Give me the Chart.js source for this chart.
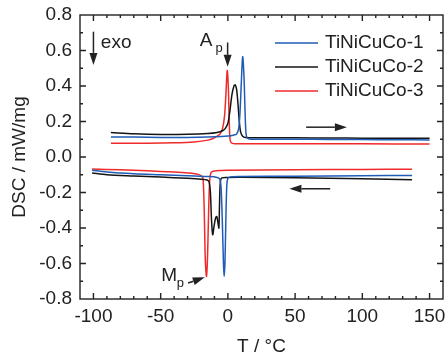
<!DOCTYPE html>
<html>
<head>
<meta charset="utf-8">
<script src="https://cdn.jsdelivr.net/npm/chart.js@4/dist/chart.umd.min.js"></script>
<style>
  html, body { margin: 0; padding: 0; background: #fff; }
</style>
</head>
<body>
<canvas id="myChart" width="445" height="358"></canvas>
<script>
// heating runs (upper curves), T in °C, DSC in mW/mg
var heatT1 = [-87, -70, -50, -30, -15, -5, 0, 4, 6.5, 8, 9, 10, 11, 12, 12.8, 13.5, 14.5, 17, 25, 50, 75, 100, 125, 150];
var heatY1 = [0.113, 0.112, 0.11, 0.11, 0.112, 0.115, 0.118, 0.123, 0.13, 0.16, 0.25, 0.42, 0.565, 0.45, 0.25, 0.13, 0.105, 0.1, 0.1, 0.1, 0.099, 0.098, 0.097, 0.096];
var heatT2 = [-87, -70, -50, -30, -15, -8, -4, -2, 0, 1.5, 3, 4.5, 5.5, 6.5, 7.5, 8.5, 9.5, 11, 13, 25, 50, 75, 100, 150];
var heatY2 = [0.138, 0.131, 0.127, 0.128, 0.132, 0.138, 0.148, 0.16, 0.19, 0.26, 0.35, 0.4, 0.406, 0.38, 0.3, 0.2, 0.14, 0.117, 0.11, 0.109, 0.108, 0.107, 0.106, 0.105];
var heatT3 = [-87, -60, -40, -25, -15, -10, -6, -4, -2.5, -1.5, -0.5, 0.3, 1, 1.6, 2.5, 5, 20, 50, 100, 150];
var heatY3 = [0.078, 0.078, 0.08, 0.085, 0.095, 0.108, 0.128, 0.16, 0.23, 0.35, 0.487, 0.4, 0.2, 0.1, 0.08, 0.075, 0.075, 0.074, 0.074, 0.073];

// cooling runs (lower curves)
var coolT1 = [-101, -90, -70, -50, -30, -15, -8, -6, -5, -4, -3.3, -2.8, -2.2, -1.5, -0.8, 0, 2, 10, 50, 100, 137];
var coolY1 = [-0.074, -0.085, -0.095, -0.1, -0.105, -0.11, -0.115, -0.125, -0.18, -0.4, -0.6, -0.673, -0.6, -0.35, -0.16, -0.12, -0.112, -0.11, -0.108, -0.105, -0.104];
var coolT2 = [-101, -90, -70, -50, -30, -20, -15.5, -14, -13, -12.2, -11.3, -10.3, -9.2, -8.3, -7.4, -6.7, -6.2, -5.6, -4.5, 0, 10, 50, 100, 137];
var coolY2 = [-0.09, -0.1, -0.107, -0.113, -0.12, -0.125, -0.13, -0.14, -0.2, -0.35, -0.438, -0.39, -0.345, -0.335, -0.37, -0.4, -0.26, -0.14, -0.118, -0.115, -0.114, -0.117, -0.122, -0.128];
var coolT3 = [-101, -80, -60, -40, -30, -22, -19.2, -18.4, -17.6, -16.8, -15.9, -15.1, -14.3, -13.5, -12.5, -10, -5, 0, 50, 100, 137];
var coolY3 = [-0.068, -0.072, -0.078, -0.085, -0.09, -0.098, -0.11, -0.13, -0.3, -0.58, -0.673, -0.55, -0.3, -0.13, -0.088, -0.079, -0.076, -0.075, -0.072, -0.07, -0.069];

var names = ['TiNiCuCo-1', 'TiNiCuCo-2', 'TiNiCuCo-3'];
var colors = ['#1f5cb8', '#151515', '#f02a2a'];
var xTicks = [-100, -50, 0, 50, 100, 150];
var yTicks = [-0.8, -0.6, -0.4, -0.2, 0, 0.2, 0.4, 0.6, 0.8];

var FONT = '"Liberation Sans", Arial, sans-serif';
var TXT = '#222';

function pts(t, v) {
  return t.map(function(x, i) { return {x: x, y: v[i]}; });
}

var runs = [[heatT1, heatY1, coolT1, coolY1], [heatT2, heatY2, coolT2, coolY2], [heatT3, heatY3, coolT3, coolY3]];
var datasets = [];
runs.forEach(function(r, i) {
  [[r[0], r[1]], [r[2], r[3]]].forEach(function(p) {
    datasets.push({
      label: names[i],
      data: pts(p[0], p[1]),
      borderColor: colors[i],
      borderWidth: 1.5,
      pointRadius: 0,
      tension: 0.3,
      fill: false
    });
  });
});

function arrow(ctx, x1, y1, x2, y2, len, hw) {
  var ang = Math.atan2(y2 - y1, x2 - x1);
  var bx = x2 - len * Math.cos(ang), by = y2 - len * Math.sin(ang);
  ctx.beginPath();
  ctx.moveTo(x1, y1);
  ctx.lineTo(bx, by);
  ctx.stroke();
  ctx.beginPath();
  ctx.moveTo(x2, y2);
  ctx.lineTo(bx + hw * Math.sin(ang), by - hw * Math.cos(ang));
  ctx.lineTo(bx - hw * Math.sin(ang), by + hw * Math.cos(ang));
  ctx.closePath();
  ctx.fill();
}

var decor = {
  id: 'decor',
  afterDraw: function(chart) {
    var ctx = chart.ctx, a = chart.chartArea;
    var xs = chart.scales.x, ys = chart.scales.y;
    var X = function(v) { return xs.getPixelForValue(v); };
    var Y = function(v) { return ys.getPixelForValue(v); };
    ctx.save();
    ctx.strokeStyle = TXT;
    ctx.fillStyle = TXT;
    ctx.lineWidth = 1.4;
    ctx.strokeRect(a.left, a.top, a.right - a.left, a.bottom - a.top);

    // inward ticks on all four sides
    ctx.beginPath();
    for (var v = -100; v <= 150; v += 10) {
      var px = X(v), L = (v % 50 === 0) ? 6 : 3;
      ctx.moveTo(px, a.bottom); ctx.lineTo(px, a.bottom - L);
      ctx.moveTo(px, a.top); ctx.lineTo(px, a.top + L);
    }
    for (var k = -7; k <= 7; k++) {
      var py = Y(k / 10), Ly = (k % 2 === 0) ? 6 : 3;
      ctx.moveTo(a.left, py); ctx.lineTo(a.left + Ly, py);
      ctx.moveTo(a.right, py); ctx.lineTo(a.right - Ly, py);
    }
    ctx.stroke();

    // legend
    ctx.font = '19px ' + FONT;
    ctx.textBaseline = 'middle';
    ctx.textAlign = 'left';
    names.forEach(function(n, i) {
      var ly = 43 + i * 24;
      ctx.strokeStyle = colors[i];
      ctx.lineWidth = 1.5;
      ctx.beginPath();
      ctx.moveTo(275, ly); ctx.lineTo(318, ly);
      ctx.stroke();
      ctx.fillStyle = TXT;
      ctx.fillText(n, 325, ly);
    });

    ctx.strokeStyle = TXT;
    ctx.fillStyle = TXT;
    ctx.lineWidth = 1.5;
    // exo
    arrow(ctx, X(-100), Y(0.706), X(-100), Y(0.519), 12, 4);
    ctx.fillText('exo', X(-94.5), Y(0.645));
    // A_p
    arrow(ctx, X(-0.2), Y(0.645), X(-0.2), Y(0.508), 12, 4);
    ctx.fillText('A', X(-20.9), Y(0.655));
    ctx.font = '13px ' + FONT;
    ctx.fillText('p', X(-9.3), Y(0.61));
    // M_p
    ctx.font = '19px ' + FONT;
    ctx.fillText('M', X(-49.5), Y(-0.668));
    ctx.font = '13px ' + FONT;
    ctx.fillText('p', X(-38), Y(-0.712));
    arrow(ctx, X(-29.6), Y(-0.71), X(-17.2), Y(-0.678), 12, 4);
    // heating / cooling direction
    arrow(ctx, X(58.2), Y(0.168), X(88.5), Y(0.168), 12, 4);
    arrow(ctx, X(76.1), Y(-0.179), X(45.8), Y(-0.179), 12, 4);
    ctx.restore();
  }
};

var ctx = document.getElementById('myChart');
var chart = new Chart(ctx, {
  type: 'line',
  data: { datasets: datasets },
  options: {
    responsive: false,
    animation: false,
    layout: { padding: { left: 0, top: 15, right: 2, bottom: 0 } },
    plugins: { legend: { display: false }, tooltip: { enabled: false } },
    scales: {
      x: {
        type: 'linear',
        min: -110,
        max: 160,
        afterBuildTicks: function(s) { s.ticks = xTicks.map(function(v) { return {value: v}; }); },
        afterFit: function(s) { s.height = 59; s.paddingLeft = 0; s.paddingRight = 0; },
        grid: { display: false, drawTicks: false },
        border: { display: false },
        ticks: { color: TXT, padding: 6, maxRotation: 0, font: { family: FONT, size: 19 } },
        title: { display: true, text: 'T / °C', color: TXT, padding: { top: 0, bottom: 0 }, font: { family: FONT, size: 19 } }
      },
      y: {
        type: 'linear',
        min: -0.8,
        max: 0.8,
        afterBuildTicks: function(s) { s.ticks = yTicks.map(function(v) { return {value: v}; }); },
        afterFit: function(s) { s.width = 80; s.paddingTop = 0; s.paddingBottom = 0; },
        grid: { display: false, drawTicks: false },
        border: { display: false },
        ticks: {
          color: TXT, padding: 8, font: { family: FONT, size: 19 },
          callback: function(v) { return v.toFixed(1); }
        },
        title: { display: true, text: 'DSC / mW/mg', color: TXT, padding: { top: 8, bottom: 0 }, font: { family: FONT, size: 19 } }
      }
    }
  },
  plugins: [decor]
});
</script>
</body>
</html>
